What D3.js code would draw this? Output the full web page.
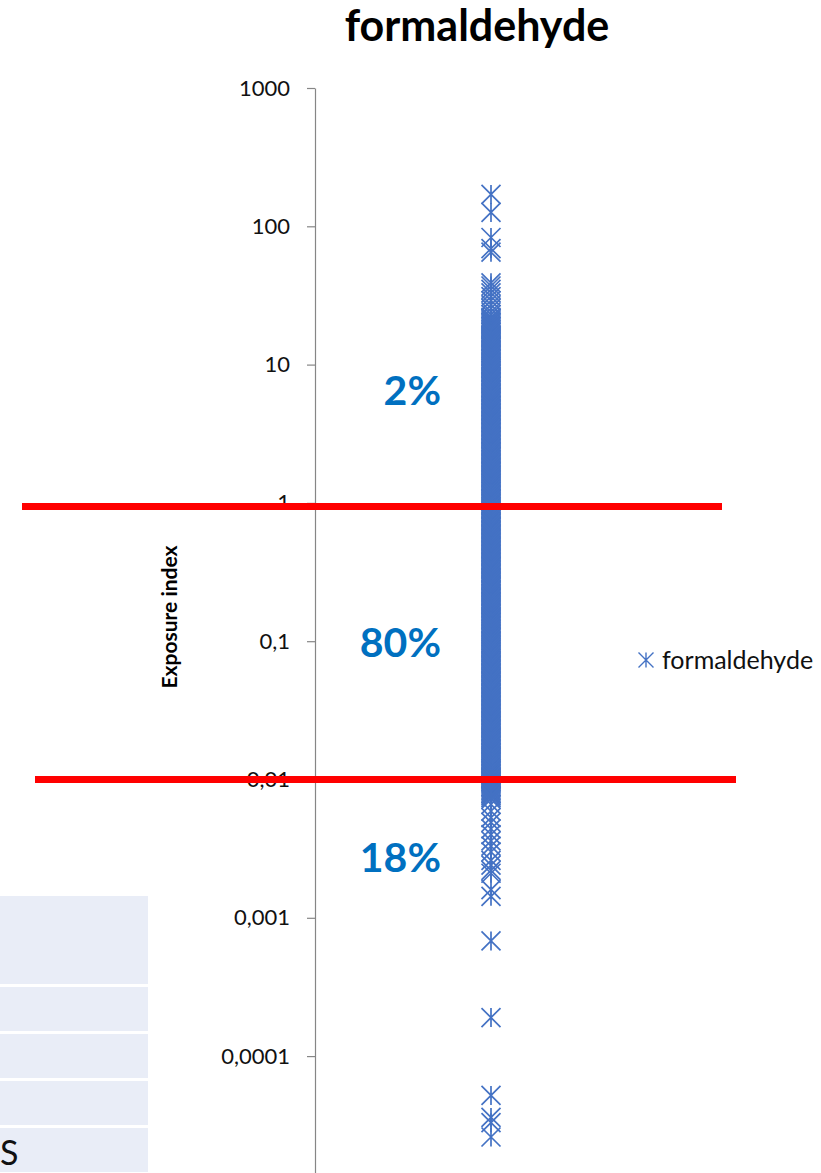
<!DOCTYPE html>
<html>
<head>
<meta charset="utf-8">
<script src="https://cdn.jsdelivr.net/npm/d3@7"></script>
<style>
  body { margin: 0; background: #fff; }
  svg { display: block; }
</style>
</head>
<body>
<svg id="chart" width="821" height="1173"></svg>
<script>
// ---- data ----
const chartTitle = "formaldehyde";
const seriesName = "formaldehyde";
const yAxisTitle = "Exposure index";
const yTickValues = [1000, 100, 10, 1, 0.1, 0.01, 0.001, 0.0001];
const yTickLabels = ["1000", "100", "10", "1", "0,1", "0,01", "0,001", "0,0001"];

// exposure index values
const highValues = [170, 126, 83, 69, 65, 39, 37, 35, 33, 31, 29, 27, 25.5, 24, 23];
const valuesAbove1 = [22, 21.1, 20.3, 19.4, 18.5, 17.8, 17.0, 16.2, 15.6, 14.9, 14.3, 13.6, 13.0, 12.5, 11.9, 11.4, 10.9, 10.4,
  9.95, 9.5, 9.1, 8.7, 8.3, 7.95, 7.6, 7.3, 6.95, 6.65, 6.35, 6.1, 5.8, 5.55, 5.3, 5.08, 4.85, 4.65, 4.44, 4.25, 4.06, 3.88,
  3.71, 3.55, 3.4, 3.25, 3.1, 2.97, 2.84, 2.71, 2.59, 2.48, 2.37, 2.27, 2.17, 2.07, 1.98, 1.9, 1.81, 1.73, 1.66, 1.59, 1.52,
  1.45, 1.39, 1.33, 1.27, 1.21, 1.16, 1.11, 1.06, 1.015];
const moreAbove1 = [21.6, 20.7, 19.8, 18.9, 18.1, 17.4, 16.6, 15.9, 15.2, 14.6, 13.9, 13.3, 12.7, 12.2, 11.6, 11.1, 10.6,
  10.15, 9.72, 9.3, 8.9, 8.5, 8.12, 7.77, 7.45, 7.12, 6.8, 6.5, 6.22, 5.95, 5.67, 5.42, 5.19, 4.96, 4.75, 4.54, 4.35, 4.15,
  3.97, 3.8, 3.63, 3.47, 3.32, 3.17, 3.03, 2.9, 2.77, 2.65, 2.53, 2.42, 2.32, 2.22, 2.12, 2.02, 1.94, 1.85, 1.77, 1.69,
  1.62, 1.55, 1.48, 1.42, 1.36, 1.3, 1.24, 1.18, 1.13, 1.08, 1.035];
const valuesMid = [0.97, 0.93, 0.89, 0.85, 0.81, 0.776, 0.742, 0.71, 0.679, 0.65, 0.621, 0.594, 0.568, 0.543, 0.52, 0.497,
  0.475, 0.455, 0.435, 0.416, 0.398, 0.381, 0.364, 0.348, 0.333, 0.319, 0.305, 0.291, 0.279, 0.267, 0.255, 0.244, 0.233,
  0.223, 0.213, 0.204, 0.195, 0.187, 0.179, 0.171, 0.163, 0.156, 0.149, 0.143, 0.137, 0.131, 0.125, 0.12, 0.114, 0.109,
  0.105, 0.1, 0.0957, 0.0915, 0.0876, 0.0838, 0.0801, 0.0766, 0.0733, 0.0701, 0.0671, 0.0642, 0.0614, 0.0587, 0.0562,
  0.0537, 0.0514, 0.0492, 0.047, 0.045, 0.043, 0.0412, 0.0394, 0.0377, 0.036, 0.0345, 0.033, 0.0315, 0.0302, 0.0289,
  0.0276, 0.0264, 0.0253, 0.0242, 0.0231, 0.0221, 0.0211, 0.0202, 0.0194, 0.0185, 0.0177, 0.0169, 0.0162, 0.0155,
  0.0148, 0.0142, 0.0136, 0.013, 0.0124, 0.0119, 0.0114, 0.0109, 0.0104, 0.0101];
const moreMid = [0.99, 0.95, 0.91, 0.87, 0.83, 0.793, 0.759, 0.726, 0.694, 0.664, 0.635, 0.607, 0.581, 0.555, 0.531, 0.508,
  0.486, 0.465, 0.445, 0.425, 0.407, 0.389, 0.372, 0.356, 0.34, 0.326, 0.312, 0.298, 0.285, 0.273, 0.261, 0.249, 0.238,
  0.228, 0.218, 0.208, 0.199, 0.191, 0.183, 0.175, 0.167, 0.159, 0.152, 0.146, 0.14, 0.134, 0.128, 0.122, 0.117, 0.112,
  0.107, 0.102, 0.0978, 0.0936, 0.0895, 0.0857, 0.0819, 0.0783, 0.075, 0.0717, 0.0686, 0.0656, 0.0628, 0.06, 0.0574,
  0.055, 0.0525, 0.0503, 0.0481, 0.046, 0.044, 0.0421, 0.0403, 0.0385, 0.0368, 0.0352, 0.0337, 0.0322, 0.0308, 0.0295,
  0.0282, 0.027, 0.0258, 0.0247, 0.0236, 0.0226, 0.0216, 0.0207, 0.0198, 0.0189, 0.0181, 0.0173, 0.0165, 0.0158, 0.0151,
  0.0145, 0.0139, 0.0133, 0.0127, 0.0121, 0.0116, 0.0111, 0.0106, 0.0102];
const valuesBelow001 = [0.0099, 0.0097, 0.0095, 0.0093, 0.0091, 0.0089, 0.0087, 0.0085, 0.0083, 0.0081, 0.0079, 0.0077,
  0.0076, 0.0074, 0.0072, 0.0066, 0.0059, 0.0053, 0.0049, 0.0044, 0.0040, 0.0036, 0.0033, 0.0030, 0.0026, 0.0024,
  0.0022, 0.0021, 0.0016, 0.00143, 0.00068, 0.00019, 0.000052, 0.000036, 0.000033, 0.000026];

// share of samples in each band and where its label sits on the value axis
const bandLabels = ["2%", "80%", "18%"];
const bandLabelValues = [5.1, 0.077, 0.00216];
// threshold lines drawn across the chart
const thresholdValues = [0.94, 0.01];

// rows of the partially visible table on the left
const tableRowSpans = [2, 1, 1, 1, 1];
const tableRowLabels = ["", "", "", "", "S"];

// ---- drawing ----
const svg = d3.select("#chart");
const FONT = "Lato, 'Open Sans', sans-serif";
const BLUE = "#4472C4";

const y = d3.scaleLog().domain([1e-5, 1000]).range([1194.4, 88]);
const x = d3.scaleLinear().domain([0, 2]).range([315, 667]);

const points = [].concat(highValues, valuesAbove1, moreAbove1, valuesMid, moreMid, valuesBelow001)
  .map(v => ({ x: 1, v }));

// table fragment
let ty = 896;
const tableG = svg.append("g");
tableRowSpans.forEach((span, i) => {
  const h = span * 44;
  tableG.append("rect").attr("x", 0).attr("y", ty).attr("width", 148).attr("height", h).attr("fill", "#E9EDF7");
  if (tableRowLabels[i]) {
    tableG.append("text").attr("x", 0).attr("y", ty + 37)
      .attr("font-family", FONT).attr("font-size", 34).attr("fill", "#111").text(tableRowLabels[i]);
  }
  ty += h + 3;
});

// title
svg.append("text").attr("x", 477).attr("y", 41).attr("text-anchor", "middle")
  .attr("font-family", FONT).attr("font-weight", "bold").attr("font-size", 43).attr("fill", "#000")
  .text(chartTitle);

// y axis
const axis = d3.axisLeft(y)
  .tickValues(yTickValues)
  .tickFormat((d, i) => yTickLabels[i])
  .tickSize(8).tickSizeOuter(0).tickPadding(17);
const axG = svg.append("g").attr("transform", "translate(315,0)").call(axis);
axG.select(".domain").attr("stroke", "#868686").attr("stroke-width", 1.2);
axG.selectAll(".tick line").attr("stroke", "#868686").attr("stroke-width", 1.2);
axG.selectAll(".tick text").attr("font-family", FONT).attr("font-size", 22).attr("fill", "#111");

// axis title
svg.append("text").attr("transform", "translate(177,617) rotate(-90)").attr("text-anchor", "middle")
  .attr("font-family", FONT).attr("font-weight", "bold").attr("font-size", 21).attr("fill", "#000")
  .text(yAxisTitle);

// star marker: X with a vertical stroke
const star = h => `M${-h},${-h}L${h},${h}M${h},${-h}L${-h},${h}M0,${-h}L0,${h}`;

svg.append("g").selectAll("path").data(points).join("path")
  .attr("d", star(9.5))
  .attr("transform", d => `translate(${x(d.x)},${y(d.v)})`)
  .attr("fill", "none").attr("stroke", BLUE).attr("stroke-width", 1.7);

// legend
svg.append("path").attr("d", star(7.5)).attr("transform", "translate(646,660)")
  .attr("fill", "none").attr("stroke", BLUE).attr("stroke-width", 1.4);
svg.append("text").attr("x", 662).attr("y", 669)
  .attr("font-family", FONT).attr("font-size", 25).attr("fill", "#111").text(seriesName);

// band shares
svg.append("g").selectAll("text").data(bandLabels).join("text")
  .attr("x", 441).attr("y", (d, i) => y(bandLabelValues[i]))
  .attr("text-anchor", "end").attr("font-family", FONT).attr("font-weight", "bold")
  .attr("font-size", 41).attr("fill", "#0070C0").text(d => d);

// threshold lines
const lineSpans = [[22, 722], [35, 736]];
svg.append("g").selectAll("line").data(thresholdValues).join("line")
  .attr("x1", (d, i) => lineSpans[i][0]).attr("x2", (d, i) => lineSpans[i][1])
  .attr("y1", d => y(d)).attr("y2", d => y(d))
  .attr("stroke", "#FF0000").attr("stroke-width", 7);
</script>
</body>
</html>
